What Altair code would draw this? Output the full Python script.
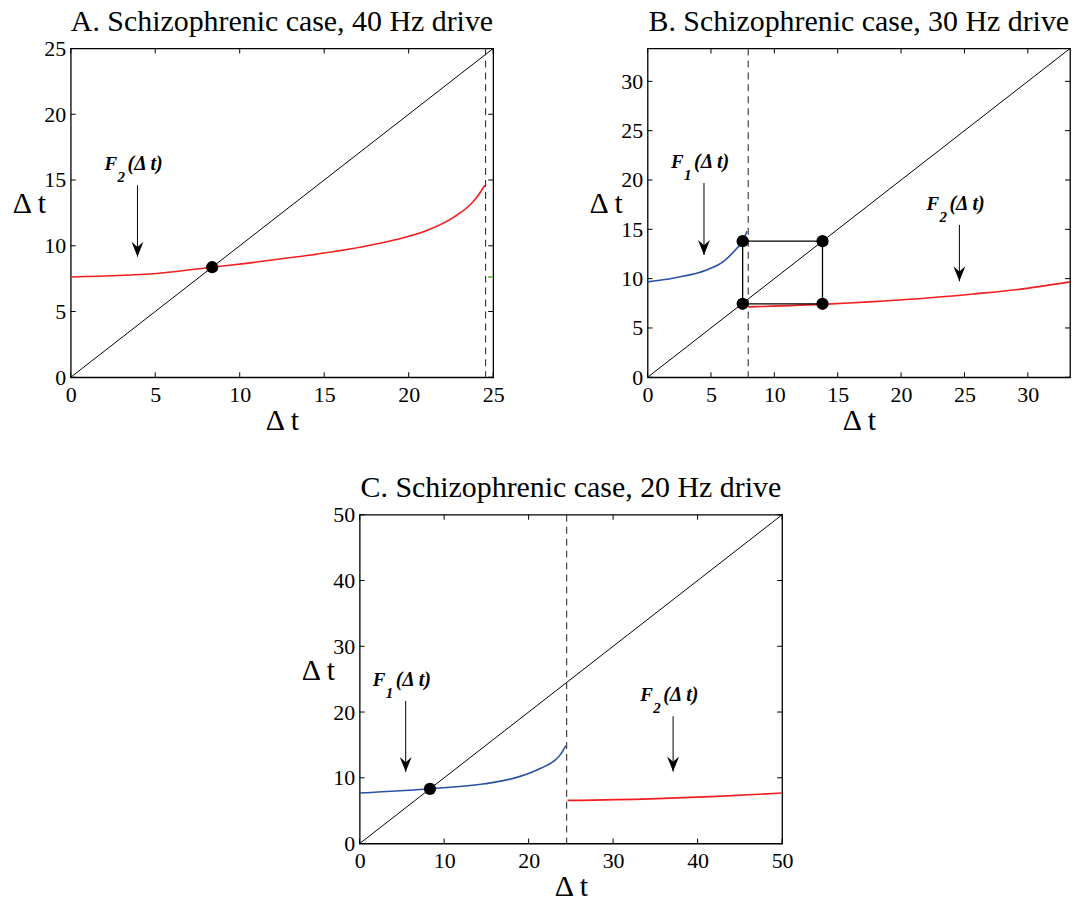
import altair as alt
import pandas as pd

SERIF = "Liberation Serif"
RED = "#f01e1e"
BLUE = "#2a50a6"
GREEN = "#5cb83c"
W, H = 424, 330

# ---------------- data ----------------
# Panel A: 40 Hz drive, period 25
A_title = "A. Schizophrenic case, 40 Hz drive"
A_max = 25
A_ticks = [0, 5, 10, 15, 20, 25]
A_F2_x = [0, 5.4, 8.37, 13.3, 17.2, 19.2, 21.15, 22.7, 23.7, 24.1, 24.5]
A_F2_y = [7.63, 7.93, 8.37, 9.14, 9.9, 10.45, 11.2, 12.2, 13.2, 13.8, 14.6]
A_G_x = [24.7, 25.0]
A_G_y = [7.63, 7.63]
A_dash = 24.55
A_dots_x = [8.37]
A_dots_y = [8.37]

# Panel B: 30 Hz drive, period 33.3
B_title = "B. Schizophrenic case, 30 Hz drive"
B_max = 33.33
B_ticks = [0, 5, 10, 15, 20, 25, 30]
B_F1_x = [0, 2.09, 4.7, 6.0, 7.06, 7.5, 7.84]
B_F1_y = [9.67, 10.07, 10.9, 11.75, 13.1, 13.8, 14.8]
B_F2_x = [7.94, 14.15, 20.4, 25.7, 29.6, 33.33]
B_F2_y = [7.14, 7.42, 7.88, 8.45, 8.96, 9.67]
B_dash = 7.94
B_dots_x = [7.5, 13.8, 7.5, 13.8]
B_dots_y = [13.8, 13.8, 7.45, 7.45]
B_web_x = [7.5, 7.5, 13.8, 13.8, 7.5]
B_web_y = [7.45, 13.8, 13.8, 7.45, 7.45]

# Panel C: 20 Hz drive, period 50
C_title = "C. Schizophrenic case, 20 Hz drive"
C_max = 50
C_ticks = [0, 10, 20, 30, 40, 50]
C_F1_x = [0, 8.32, 14.8, 18.7, 21.5, 23.05, 23.8, 24.4]
C_F1_y = [7.68, 8.33, 9.09, 10.1, 11.5, 12.6, 13.6, 14.9]
C_F2_x = [24.6, 34.4, 42.3, 50.0]
C_F2_y = [6.56, 6.8, 7.17, 7.68]
C_dash = 24.5
C_dots_x = [8.32]
C_dots_y = [8.32]

# annotations: (arrow x, arrow top y, arrow tip y, subscript)
A_notes = [(3.95, 14.6, 9.17, "2")]
B_notes = [(4.45, 19.7, 12.4, "1"), (24.6, 15.45, 9.73, "2")]
C_notes = [(5.45, 21.7, 10.9, "1"), (37.1, 19.35, 10.95, "2")]

ARROW = "M0,0L-0.8,-2L0,-1.3L0.8,-2Z"


def xy_df(xs, ys):
    return pd.DataFrame({"x": xs, "y": ys, "i": list(range(len(xs)))})


def panel(title, vmax, ticks, curves, dash_x, dots_x, dots_y, notes, web=None):
    xs = alt.Scale(domain=[0, vmax], nice=False, zero=False)
    ys = alt.Scale(domain=[0, vmax], nice=False, zero=False)
    common = dict(ticks=False, domain=False, grid=False, labelFont=SERIF,
                  labelFontSize=22, labelColor="black", labelFlush=False,
                  labelOverlap=False, values=ticks, title="Δ t",
                  titleFont=SERIF, titleFontSize=30, titleFontWeight="normal",
                  titleColor="black")
    xaxis = alt.Axis(labelPadding=7, titleY=52, titleBaseline="alphabetic", **common)
    yaxis = alt.Axis(labelPadding=5, titleAngle=0, titleX=-42, titleY=165,
                     titleAlign="center", titleBaseline="alphabetic", **common)

    X = lambda: alt.X("x:Q", scale=xs, axis=xaxis)
    Y = lambda: alt.Y("y:Q", scale=ys, axis=yaxis)

    layers = []
    # diagonal
    layers.append(alt.Chart(xy_df([0, vmax], [0, vmax])).mark_line(
        color="black", strokeWidth=1).encode(x=X(), y=Y()))
    # tick marks pointing inward on all four sides
    tdf = pd.DataFrame({"x": ticks, "y": ticks})
    tk = dict(color="black", strokeWidth=1)
    layers.append(alt.Chart(tdf).mark_rule(**tk).encode(
        x=X(), y=alt.value(H), y2=alt.value(H - 5)))
    layers.append(alt.Chart(tdf).mark_rule(**tk).encode(
        x=X(), y=alt.value(0), y2=alt.value(5)))
    layers.append(alt.Chart(tdf).mark_rule(**tk).encode(
        y=Y(), x=alt.value(0), x2=alt.value(5)))
    layers.append(alt.Chart(tdf).mark_rule(**tk).encode(
        y=Y(), x=alt.value(W), x2=alt.value(W - 5)))
    # dashed separator
    layers.append(alt.Chart(pd.DataFrame({"x": [dash_x]})).mark_rule(
        color="#333333", strokeWidth=1.1, strokeDash=[7, 5]).encode(x=X()))
    # curves
    for cx, cy, col in curves:
        layers.append(alt.Chart(xy_df(cx, cy)).mark_line(
            color=col, strokeWidth=1.6, interpolate="monotone").encode(x=X(), y=Y()))
    if web is not None:
        layers.append(alt.Chart(xy_df(*web)).mark_line(
            color="black", strokeWidth=1.3).encode(x=X(), y=Y(), order="i:Q"))
    # fixed points
    layers.append(alt.Chart(xy_df(dots_x, dots_y)).mark_circle(
        size=150, color="black", opacity=1).encode(x=X(), y=Y()))
    # annotations
    for ax, top, tip, sub in notes:
        ndf = pd.DataFrame({"x": [ax], "y": [top], "y2": [tip]})
        layers.append(alt.Chart(ndf).mark_rule(color="black", strokeWidth=1).encode(
            x=X(), y=Y(), y2="y2:Q"))
        layers.append(alt.Chart(pd.DataFrame({"x": [ax], "y": [tip]})).mark_point(
            shape=ARROW, filled=True, size=225, color="black", opacity=1,
            strokeWidth=0).encode(x=X(), y=Y()))
        tstyle = dict(font=SERIF, fontWeight="bold", fontStyle="italic",
                      color="black", align="left", baseline="alphabetic")
        layers.append(alt.Chart(ndf).mark_text(
            text="F", fontSize=19, dx=-33, dy=-15, **tstyle).encode(x=X(), y=Y()))
        layers.append(alt.Chart(ndf).mark_text(
            text=sub, fontSize=15, dx=-20, dy=-3, **tstyle).encode(x=X(), y=Y()))
        layers.append(alt.Chart(ndf).mark_text(
            text="(Δ t)", fontSize=20, dx=-10, dy=-15, **tstyle).encode(x=X(), y=Y()))
    # panel title
    layers.append(alt.Chart(pd.DataFrame({"t": [title]})).mark_text(
        font=SERIF, fontSize=30, color="black", align="center",
        baseline="alphabetic").encode(
        text="t:N", x=alt.value(W / 2), y=alt.value(-18)))

    return alt.layer(*layers).properties(width=W, height=H)


pA = panel(A_title, A_max, A_ticks,
           [(A_F2_x, A_F2_y, RED), (A_G_x, A_G_y, GREEN)],
           A_dash, A_dots_x, A_dots_y, A_notes)
pB = panel(B_title, B_max, B_ticks,
           [(B_F1_x, B_F1_y, BLUE), (B_F2_x, B_F2_y, RED)],
           B_dash, B_dots_x, B_dots_y, B_notes, web=(B_web_x, B_web_y))
pC = panel(C_title, C_max, C_ticks,
           [(C_F1_x, C_F1_y, BLUE), (C_F2_x, C_F2_y, RED)],
           C_dash, C_dots_x, C_dots_y, C_notes)

spacer = alt.Chart(pd.DataFrame({"x": [0]})).mark_point(opacity=0).encode(
    x=alt.X("x:Q", axis=None), y=alt.Y("x:Q", axis=None)
).properties(width=270, height=H, view=alt.ViewBackground(strokeOpacity=0))

top = alt.hconcat(pA, pB, spacing=155, bounds="flush")
bottom = alt.hconcat(spacer, pC, spacing=20, bounds="flush")
chart = alt.vconcat(top, bottom, spacing=36).properties(
    padding={"left": 10, "top": 4, "right": 2, "bottom": 2}
).configure_view(stroke="black", strokeWidth=1.3)

chart.save("out.html", embed_options={"renderer": "svg", "actions": False})
